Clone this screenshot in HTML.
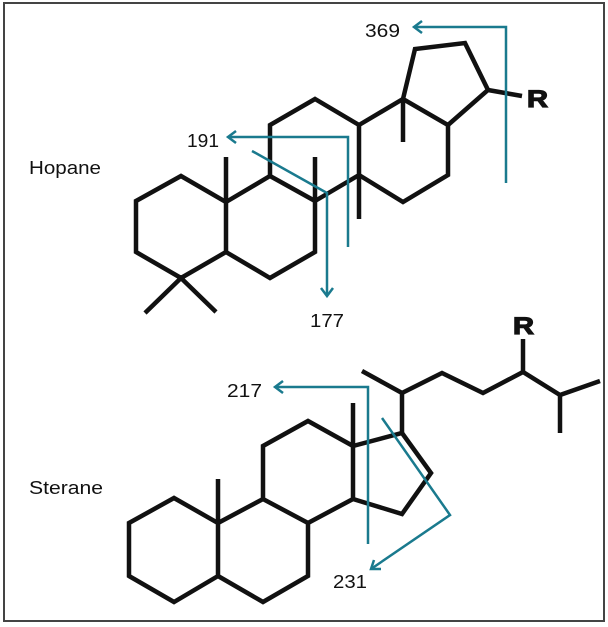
<!DOCTYPE html>
<html><head><meta charset="utf-8"><style>
html,body{margin:0;padding:0;background:#fff;}
svg{display:block;}
text{font-family:"Liberation Sans",sans-serif;fill:#111;}
</style></head><body>
<svg width="608" height="627" viewBox="0 0 608 627" xmlns="http://www.w3.org/2000/svg">
<rect x="4" y="3" width="600" height="618" fill="none" stroke="#444" stroke-width="2"/>
<g fill="none" stroke="#111" stroke-width="4.5" stroke-linejoin="miter" stroke-linecap="butt">
<!-- Hopane -->
<polygon points="136,201 181,176 226,202 226,252 181,278 136,252"/>
<polyline points="145,313 181,278 216,312"/>
<line x1="226" y1="202" x2="226" y2="157"/>
<polyline points="226,202 270,176 315,201 315,252 270,278 226,252"/>
<line x1="315" y1="201" x2="315" y2="157"/>
<polyline points="270,176 270,125 315,99 359,125 359,175 315,201"/>
<line x1="359" y1="175" x2="359" y2="219"/>
<polyline points="359,125 403,99 448,125 448,175 403,202 359,175"/>
<line x1="403" y1="99" x2="403" y2="142"/>
<polyline points="403,99 415,49 465,43 488,90 448,125"/>
<line x1="488" y1="90" x2="522" y2="96"/>
<!-- Sterane -->
<polygon points="129,523 174,498 218,523 218,576 174,602 129,576"/>
<line x1="218" y1="523" x2="218" y2="479"/>
<polyline points="218,523 263,499 308,523 308,576 263,602 218,576"/>
<polyline points="263,499 263,446 308,421 353,446 353,499 308,523"/>
<line x1="353" y1="446" x2="353" y2="403"/>
<polyline points="353,446 402,433 431,473 402,514 353,499"/>
<polyline points="402,433 402,393 362,371"/>
<polyline points="402,393 442,373 483,393 523,372 560,395 600,381"/>
<line x1="523" y1="372" x2="523" y2="339"/>
<line x1="560" y1="395" x2="560" y2="433"/>
</g>
<g fill="none" stroke="#1a7a8e" stroke-width="2.5">
<polyline points="506,183 506,27 414,27"/><polyline points="422,21 414,27 422,33"/>
<polyline points="348,247 348,137 228,137"/><polyline points="236,131 228,137 236,143"/>
<polyline points="252,151 327,193 327,296"/><polyline points="321,288 327,296 333,288"/>
<polyline points="368,544 368,387 275,387"/><polyline points="283,381 275,387 283,393"/>
<polyline points="382,418 450,515 371,569"/><polyline points="374,560 371,569 381,569"/>
</g>
<g font-size="18" lengthAdjust="spacingAndGlyphs">
<text x="365" y="37" textLength="35" lengthAdjust="spacingAndGlyphs">369</text>
<text x="187" y="147" textLength="32" lengthAdjust="spacingAndGlyphs">191</text>
<text x="310" y="327" textLength="34" lengthAdjust="spacingAndGlyphs">177</text>
<text x="227" y="397" textLength="35" lengthAdjust="spacingAndGlyphs">217</text>
<text x="333" y="588" textLength="34" lengthAdjust="spacingAndGlyphs">231</text>
<text x="29" y="174" textLength="72" lengthAdjust="spacingAndGlyphs">Hopane</text>
<text x="29" y="494" textLength="74" lengthAdjust="spacingAndGlyphs">Sterane</text>
</g>
<text x="527" y="107" font-size="24" font-weight="bold" stroke="#111" stroke-width="1.2" textLength="21" lengthAdjust="spacingAndGlyphs">R</text>
<text x="513" y="334" font-size="24" font-weight="bold" stroke="#111" stroke-width="1.2" textLength="21" lengthAdjust="spacingAndGlyphs">R</text>
</svg>
</body></html>
